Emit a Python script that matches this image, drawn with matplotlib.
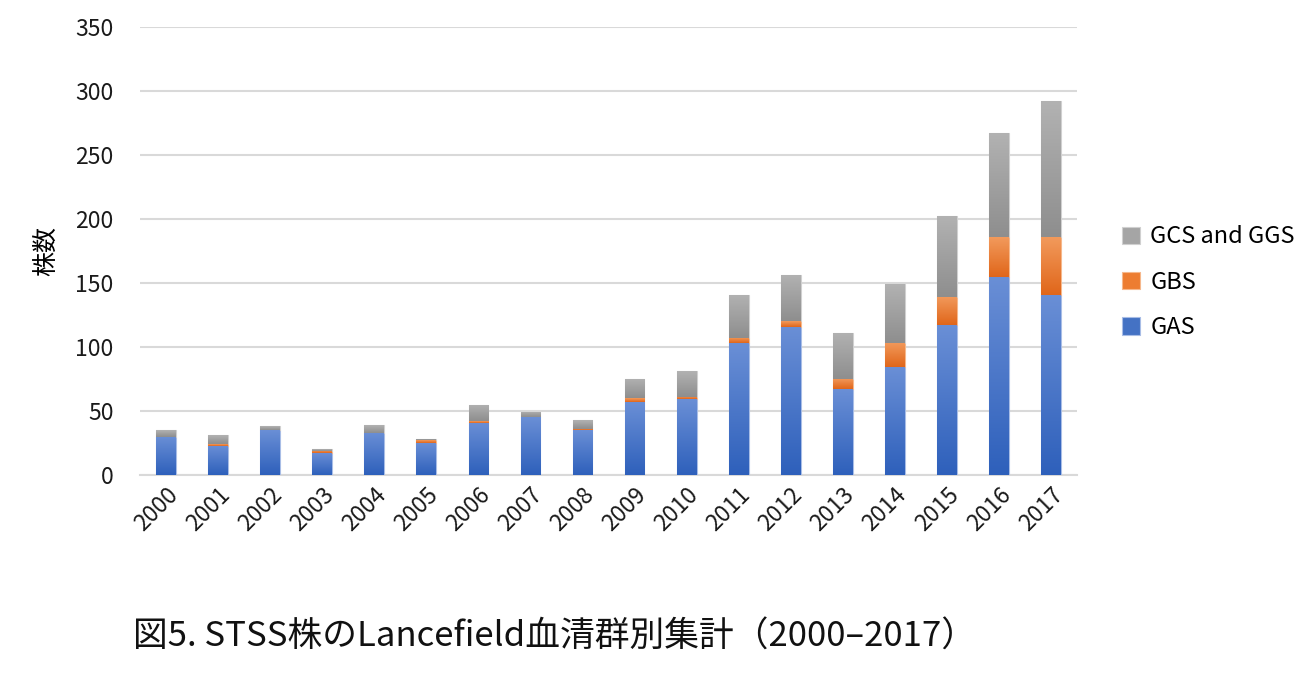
import numpy as np
import matplotlib
matplotlib.use("Agg")
import matplotlib.pyplot as plt
from matplotlib.colors import LinearSegmentedColormap

plt.rcParams['font.family'] = ['Noto Sans CJK JP', 'DejaVu Sans']

# 年ごとの株数
years = [str(y) for y in range(2000, 2018)]
gas = [30, 23, 35, 17, 33, 25, 41, 45, 35, 57, 59, 103, 116, 67, 84, 117, 155, 141]
gbs = [0, 1, 0, 2, 0, 2, 1, 0, 1, 3, 2, 4, 4, 8, 19, 22, 31, 45]
gcs_ggs = [5, 7, 3, 1, 6, 1, 13, 4, 7, 15, 20, 34, 36, 36, 46, 63, 81, 106]

# 上→下のグラデーション色
grad_gas = ("#6a8fd6", "#2e60bb")
grad_gbs = ("#f29a5c", "#e0661a")
grad_gcs = ("#b2b2b2", "#8e8e8e")

fig = plt.figure(figsize=(13.12, 6.77), dpi=100)
ax = fig.add_axes([0.1067, 0.2984, 0.7143, 0.6617])

x = np.arange(len(years))
w = 0.38
gas_a = np.array(gas)
gbs_a = np.array(gbs)
gcs_a = np.array(gcs_ggs)

b1 = ax.bar(x, gas_a, w, color="#4472C4", edgecolor="#a8bde6", linewidth=0.8, label="GAS", zorder=3)
b2 = ax.bar(x, gbs_a, w, bottom=gas_a, color="#ED7D31", edgecolor="#f6b88c", linewidth=0.8,
            label="GBS", zorder=3)
b3 = ax.bar(x, gcs_a, w, bottom=gas_a + gbs_a, color="#A5A5A5", edgecolor="#d0d0d0", linewidth=0.8,
            label="GCS and GGS", zorder=3)

# 棒の中にグラデーションを描く
grad = np.linspace(0, 1, 256).reshape(-1, 1)
for bars, (top, bot) in [(b1, grad_gas), (b2, grad_gbs), (b3, grad_gcs)]:
    cmap = LinearSegmentedColormap.from_list("g", [top, bot])
    for p in bars:
        h = p.get_height()
        if h <= 0:
            continue
        x0, y0 = p.get_x(), p.get_y()
        im = ax.imshow(grad, cmap=cmap, aspect="auto", zorder=3.5,
                       extent=[x0, x0 + p.get_width(), y0, y0 + h], origin="upper")
        im.set_clip_path(p)

ax.set_xlim(-0.5, len(years) - 0.5)
ax.set_ylim(0, 350)
ax.set_yticks(range(0, 351, 50))
ax.yaxis.grid(True, color="#d9d9d9", linewidth=1.5, zorder=0)
ax.set_axisbelow(True)
for s in ["top", "right", "left"]:
    ax.spines[s].set_visible(False)
ax.spines["bottom"].set_color("#d9d9d9")
ax.spines["bottom"].set_linewidth(1.5)
ax.tick_params(axis="both", length=0, labelsize=16.5, colors="#1a1a1a")
ax.tick_params(axis="y", pad=19)
ax.tick_params(axis="x", pad=6)
ax.set_xticks(x)
ax.set_xticklabels(years, rotation=45, ha="right", va="top", rotation_mode="anchor")

ax.set_ylabel("株数", fontsize=18, labelpad=12)

ax.legend(handles=[b3, b2, b1], loc="center left", bbox_to_anchor=(1.025, 0.43), frameon=False,
          fontsize=17, handlelength=0.75, handleheight=0.75, handletextpad=0.45, labelspacing=0.95)

fig.text(0.101, 0.059, "図5. STSS株のLancefield血清群別集計（2000–2017）", fontsize=25,
         ha="left", va="center", color="#111111")

fig.savefig("out.png", dpi=100)
